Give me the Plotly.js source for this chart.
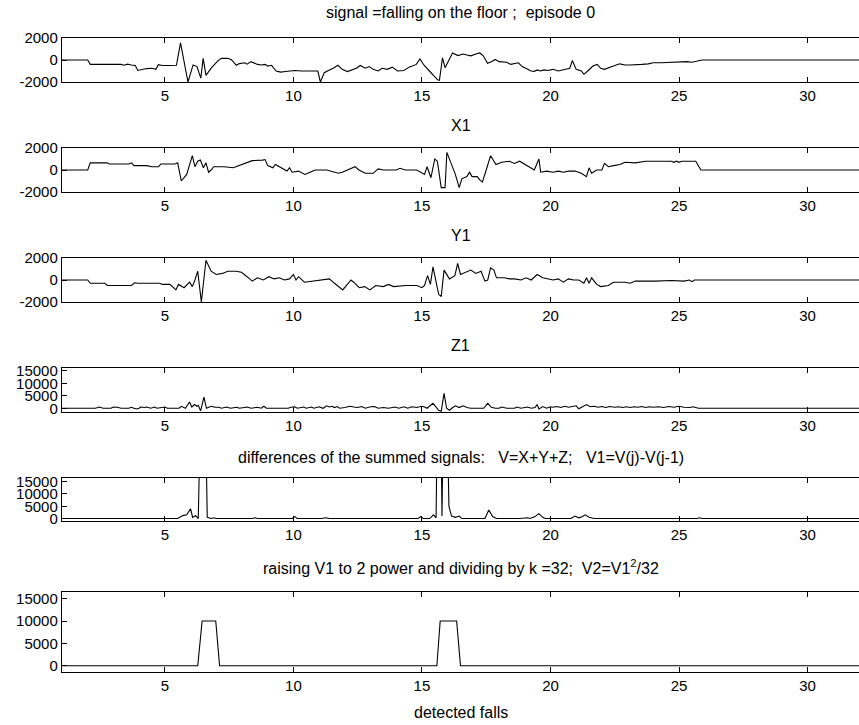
<!DOCTYPE html>
<html>
<head>
<meta charset="utf-8">
<script src="https://cdn.plot.ly/plotly-3.0.1.min.js"></script>
<style>html,body{margin:0;padding:0;background:#fff;overflow:hidden}#chart{width:859px;height:725px}</style>
</head>
<body>
<div id="chart"></div>
<script>
// ---- data ----
const titles = [
  "signal =falling on the floor ;  episode 0",
  "X1",
  "Y1",
  "Z1",
  "differences of the summed signals:   V=X+Y+Z;   V1=V(j)-V(j-1)",
  "raising V1 to 2 power and dividing by k =32;  V2=V1<sup>2</sup>/32"
];
const xLabel = "detected falls";
const xTicks = [5, 10, 15, 20, 25, 30];
const yTicksSmall = [-2000, 0, 2000];
const yTicksBig = [0, 5000, 10000, 15000];

const tSig = [1,2,2.1,2.5,3,3.3,3.4,3.55,3.7,3.85,3.95,4.1,4.3,4.5,4.65,4.75,4.9,5.2,5.45,5.61,5.9,6.1,6.25,6.4,6.49,6.6,6.81,7.07,7.2,7.46,7.6,7.78,7.9,8.1,8.2,8.35,8.5,8.6,8.75,8.9,9,9.15,9.33,9.5,9.7,9.85,10.05,10.3,10.55,10.95,11.05,11.2,11.4,11.55,11.73,11.9,12.1,12.3,12.45,12.6,12.8,12.95,13.1,13.3,13.45,13.65,13.85,14.05,14.3,14.5,14.65,14.78,14.92,15.09,15.29,15.45,15.61,15.68,15.8,15.9,16.19,16.4,16.6,16.75,16.9,17.1,17.25,17.38,17.55,17.7,17.85,18,18.15,18.3,18.45,18.6,18.75,18.9,19.1,19.25,19.36,19.5,19.6,19.75,19.9,20.1,20.3,20.5,20.65,20.75,20.85,21,21.2,21.3,21.45,21.65,21.82,21.95,22.1,22.3,22.5,22.7,22.9,23.1,23.3,23.55,23.8,24,24.3,24.6,24.9,25,25.3,25.5,25.75,25.9,32];
const sig  = [0,0,-400,-400,-420,-400,-480,-380,-450,-500,-950,-850,-780,-750,-850,-420,-500,-500,-480,1550,-2000,-450,-600,-1650,150,-1400,-720,-50,150,150,0,-480,-330,-250,-380,-150,-330,-400,-450,-400,-550,-480,-1000,-1100,-1050,-1000,-950,-1000,-1000,-1000,-2000,-1150,-900,-750,-480,-850,-1050,-850,-750,-500,-750,-600,-850,-1000,-750,-850,-650,-1000,-950,-650,-500,-400,100,-500,-1000,-1400,-1800,-1850,200,-700,640,400,550,450,380,550,640,400,-300,-150,50,-150,-150,-200,-400,-300,-250,-600,-800,-1000,-1030,-900,-1000,-900,-950,-850,-1000,-900,-850,-750,-50,-850,-1000,-1300,-1000,-550,-400,-750,-850,-650,-500,-350,-450,-450,-400,-400,-350,-250,-250,-200,-150,-200,-150,-200,-50,0,0];

const tX1 = [1,2,2.1,2.75,2.85,3.6,3.7,3.8,4.3,4.5,4.75,4.85,5.4,5.5,5.64,5.85,6.07,6.17,6.28,6.38,6.5,6.6,6.7,6.8,6.9,7.3,7.66,7.98,8.4,8.8,8.9,9,9.2,9.3,9.5,9.75,9.85,9.95,10.2,10.45,10.65,10.85,11.3,11.75,11.9,12.2,12.4,12.55,12.8,13.1,13.3,13.5,14,14.15,14.35,14.8,14.95,15.1,15.2,15.35,15.5,15.6,15.75,15.9,15.97,16.1,16.3,16.45,16.55,16.75,16.85,16.95,17.15,17.25,17.35,17.5,17.67,17.88,18.1,18.4,18.6,18.8,19,19.37,19.55,19.62,19.85,20.1,20.3,20.5,20.7,20.95,21.2,21.4,21.5,21.6,21.8,22,22.1,22.25,22.45,22.7,22.9,23.3,23.7,24.7,24.8,24.9,25,25.1,25.65,25.85,32];
const x1  = [0,0,650,650,550,550,650,400,400,300,300,550,550,650,-1000,-400,1300,300,800,900,200,650,-200,0,300,300,200,500,850,900,950,400,200,500,200,-100,200,-200,-100,-400,-200,0,0,-300,-200,100,300,0,-300,-300,100,0,0,150,0,0,-200,-400,300,-700,1000,800,-1600,-1600,1600,800,-400,-1600,-800,-600,-200,-600,-600,-900,-1100,0,1300,500,700,800,600,800,500,0,1000,-200,-100,-200,-100,-200,-100,-100,-300,-600,200,-300,0,0,600,300,400,500,700,650,800,800,700,800,700,800,800,0,0];

const tY1 = [1,2,2.1,2.66,2.77,3.7,3.83,3.95,4.8,4.9,5.2,5.43,5.53,5.75,5.96,6.07,6.17,6.28,6.42,6.6,6.8,7,7.24,7.45,7.77,7.98,8.2,8.4,8.6,8.83,9.05,9.25,9.45,9.65,9.85,10,10.1,10.2,10.43,10.75,11.2,11.4,11.6,11.92,12.24,12.35,12.56,12.77,12.98,13.2,13.5,13.7,13.9,14.37,14.8,15,15.1,15.22,15.33,15.43,15.65,15.75,15.86,16.07,16.28,16.39,16.5,16.7,16.9,17.1,17.3,17.45,17.56,17.67,17.8,17.9,18.2,18.4,18.6,18.85,19.05,19.25,19.48,19.7,19.9,20.1,20.3,20.5,20.7,20.9,21.1,21.3,21.4,21.5,21.6,21.8,21.95,22.25,22.45,22.9,23.1,23.3,24.1,24.7,25.2,25.4,25.5,25.6,32];
const y1  = [0,0,-300,-300,-500,-500,-250,-300,-300,-400,-400,-900,-400,-700,-200,-600,0,800,-2000,1800,800,500,600,800,800,700,300,-100,200,0,300,100,200,0,100,500,0,300,-200,-100,0,100,-300,-900,0,-200,-700,-600,-900,-500,-600,-400,-600,-500,-500,-700,-500,400,-400,1200,-1300,-1500,900,100,400,1500,500,700,900,600,800,-100,0,1100,900,200,200,100,100,0,200,0,500,200,100,0,100,-200,100,0,0,-300,200,-300,200,-400,-600,-500,-200,-200,-300,-100,-100,-50,-100,0,-150,0,0];

const tZ1 = [1,2.3,2.45,2.6,2.9,3,3.15,3.3,3.6,3.7,3.8,3.9,4,4.05,4.2,4.3,4.45,4.6,4.7,4.85,5,5.1,5.55,5.64,5.8,5.96,6.05,6.15,6.25,6.3,6.39,6.52,6.62,6.8,6.95,7.1,7.2,7.4,7.55,7.8,7.9,8.2,8.35,8.6,8.75,8.85,8.95,9.8,9.9,10.05,10.15,10.4,10.5,10.7,10.8,11,11.15,11.3,11.4,11.5,11.6,11.7,11.8,12,12.2,12.35,12.5,12.65,12.8,13,13.15,13.3,13.5,13.7,13.95,14.1,14.3,14.45,14.6,14.8,15,15.1,15.2,15.43,15.55,15.65,15.75,15.86,15.96,16.07,16.2,16.3,16.45,16.6,16.75,16.9,17.4,17.56,17.7,17.85,18,18.1,18.3,18.6,18.7,18.85,19.1,19.25,19.4,19.48,19.55,19.7,19.85,20,20.1,20.25,20.4,20.55,20.7,20.85,21,21.1,21.2,21.4,21.55,21.7,21.85,22,22.15,22.3,22.5,22.65,22.8,22.95,23.1,23.25,23.4,23.55,23.7,23.85,24,24.2,24.4,24.6,24.8,25,25.2,25.4,25.55,25.75,32];
const z1  = [0,0,500,0,0,500,400,0,0,400,0,-300,0,500,300,500,0,500,0,300,500,0,0,800,0,2500,500,1500,800,1200,-1000,4500,0,800,400,400,0,500,0,400,0,500,0,400,0,800,0,0,400,600,0,500,0,500,0,600,0,1000,500,800,300,700,0,300,800,500,300,700,0,600,700,0,300,0,500,0,600,0,600,300,800,500,0,2000,300,-800,-1200,6000,0,-800,300,1000,300,1000,300,0,0,2000,400,0,0,500,0,0,500,0,500,0,300,1500,-300,700,0,600,400,700,300,800,400,600,1000,-200,300,1500,600,800,400,700,300,700,400,600,300,600,300,600,400,700,300,600,400,600,300,700,400,800,400,300,600,0,0];

const tV1 = [1,3.6,3.75,3.9,4.6,4.75,4.9,5.5,5.7,5.85,6,6.08,6.2,6.3,6.42,6.55,6.65,6.8,6.9,7,8.4,8.5,8.6,8.75,8.85,8.95,9.95,10.05,10.15,11.1,11.25,11.4,11.9,12,12.1,12.25,12.35,12.45,12.9,13,13.1,13.25,13.35,13.45,14,14.1,14.2,14.85,14.95,15.05,15.3,15.45,15.55,15.62,15.72,15.78,15.85,15.95,16.05,16.15,16.3,16.45,16.55,17.45,17.6,17.75,17.9,18.8,18.95,19.1,19.2,19.4,19.55,19.7,19.8,20.8,20.95,21.1,21.25,21.35,21.5,21.6,21.7,25.7,25.8,25.9,32];
const v1  = [0,0,300,0,0,300,0,0,1200,1500,4000,500,1200,0,60000,60000,500,0,300,0,0,300,0,0,300,0,0,800,0,0,300,0,0,300,0,0,300,0,0,300,0,0,300,0,0,300,0,0,800,0,0,1500,300,60000,60000,1000,60000,60000,5000,1000,500,1000,0,0,3500,800,0,0,300,300,0,800,2000,500,0,0,1000,300,800,1500,500,300,0,0,300,0,0];

const tV2 = [1,6.28,6.45,6.98,7.13,15.58,15.71,16.35,16.5,32];
const v2  = [0,0,10000,10000,0,0,10000,10000,0,0];

// ---- layout ----
const W = 859, H = 725;
const boxes = [[38,82],[148,192],[258,302],[368,412],[478,521],[592,672]];
const yRanges = [[-2000,2000],[-2000,2000],[-2000,2000],[-1500,16200],[-1000,16500],[-1400,16500]];
const yTicks = [yTicksSmall, yTicksSmall, yTicksSmall, yTicksBig, yTicksBig, yTicksBig];
const titleY = [12,125,235,345,457,567];
const series = [[tSig,sig],[tX1,x1],[tY1,y1],[tZ1,z1],[tV1,v1],[tV2,v2]];

const FONT = "Liberation Sans, Arial, Helvetica, sans-serif";
const left = 62/W;
const traces = [];
const layout = {
  width: W, height: H,
  margin: {l:0, r:0, t:0, b:0},
  paper_bgcolor: "#fff", plot_bgcolor: "#fff",
  showlegend: false,
  font: {family: FONT, size: 15, color: "#000"},
  annotations: []
};

series.forEach((s, i) => {
  const k = i === 0 ? "" : String(i+1);
  traces.push({
    x: s[0], y: s[1], type: "scatter", mode: "lines",
    line: {color: "#000", width: 1.1},
    xaxis: "x"+k, yaxis: "y"+k, hoverinfo: "skip"
  });
  const [top, bot] = boxes[i];
  layout["xaxis"+k] = {
    domain: [left, 1], anchor: "y"+k, range: [1, 32],
    tickvals: xTicks, ticktext: xTicks.map(String),
    ticks: "inside", ticklen: 5, tickcolor: "#000", tickwidth: 1,
    showline: true, linecolor: "#000", linewidth: 1.2, mirror: "ticks",
    showgrid: false, zeroline: false, fixedrange: true,
    tickfont: {family: FONT, size: 15, color: "#000"}
  };
  layout["yaxis"+k] = {
    domain: [1 - bot/H, 1 - top/H], anchor: "x"+k, range: yRanges[i],
    tickvals: yTicks[i], ticktext: yTicks[i].map(String),
    ticks: "inside", ticklen: 5, tickcolor: "#000", tickwidth: 1,
    showline: true, linecolor: "#000", linewidth: 1.2, mirror: false,
    showgrid: false, zeroline: false, fixedrange: true,
    tickfont: {family: FONT, size: 15, color: "#000"}
  };
  layout.annotations.push({
    text: titles[i], xref: "paper", yref: "paper",
    x: (62 + W) / 2 / W, y: 1 - titleY[i]/H, xanchor: "center", yanchor: "middle",
    showarrow: false, font: {family: FONT, size: 16, color: "#000"}
  });
});
layout.annotations.push({
  text: xLabel, xref: "paper", yref: "paper",
  x: (62 + W) / 2 / W, y: 1 - 712/H, xanchor: "center", yanchor: "middle",
  showarrow: false, font: {family: FONT, size: 16, color: "#000"}
});

Plotly.newPlot("chart", traces, layout, {staticPlot: true, displayModeBar: false});
</script>
</body>
</html>
